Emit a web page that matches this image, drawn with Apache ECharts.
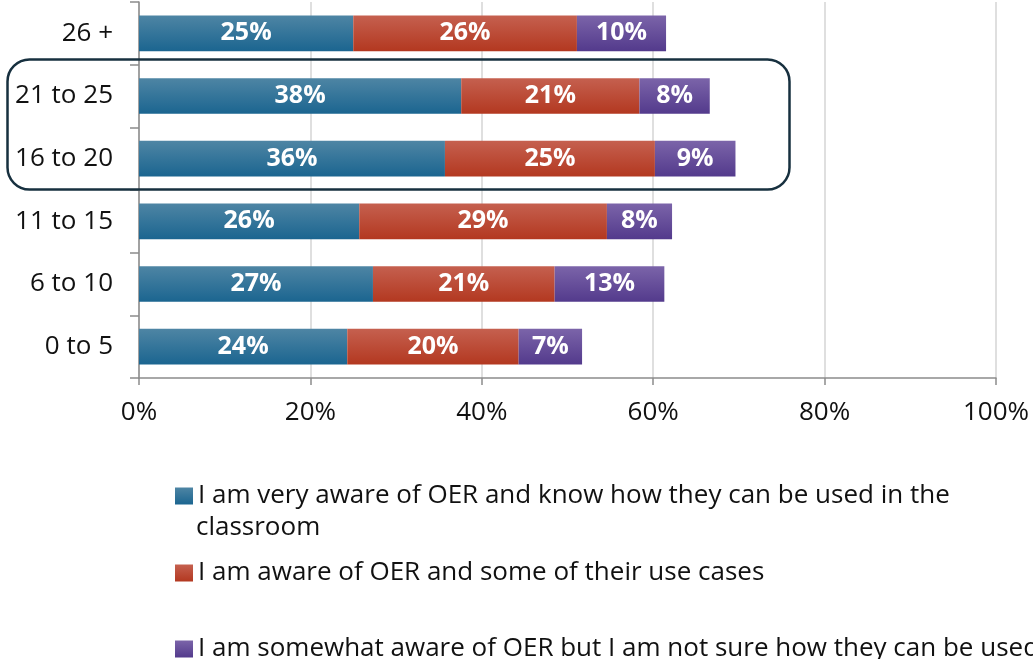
<!DOCTYPE html>
<html>
<head>
<meta charset="utf-8">
<script src="https://cdn.jsdelivr.net/npm/echarts@6/dist/echarts.min.js"></script>
<style>
  html, body { margin: 0; padding: 0; background: #fff; }
  #chart { width: 1033px; height: 659px; }
</style>
</head>
<body>
<div id="chart"></div>
<script>
// 年龄段（从下到上）
const categories = ['0 to 5', '6 to 10', '11 to 15', '16 to 20', '21 to 25', '26 +']
const xTicks = [0, 20, 40, 60, 80, 100]

// 各系列数值（%）
const veryAware = [24.3, 27.3, 25.7, 35.7, 37.6, 25.0]
const aware = [20.0, 21.2, 28.9, 24.5, 20.8, 26.1]
const somewhat = [7.4, 12.8, 7.6, 9.4, 8.2, 10.4]

const seriesNames = [
  'I am very aware of OER and know how they can be used in the',
  'I am aware of OER and some of their use cases',
  'I am somewhat aware of OER but I am not sure how they can be used'
]

const font = 'Open Sans'

const grad = (top, bottom) => new echarts.graphic.LinearGradient(0, 0, 0, 1, [
  { offset: 0, color: top },
  { offset: 1, color: bottom }
])

const makeSeries = (name, data, top, bottom) => ({
  name,
  type: 'bar',
  stack: 'total',
  barCategoryGap: '43%',
  data,
  itemStyle: { color: grad(top, bottom) },
  label: {
    show: true,
    position: 'inside',
    color: '#fff',
    fontFamily: font,
    fontWeight: 'bold',
    fontSize: 25,
    formatter: p => Math.round(p.value) + '%'
  }
})

const legendBase = {
  left: 170,
  orient: 'vertical',
  itemWidth: 18,
  itemHeight: 17,
  icon: 'rect',
  selectedMode: false,
  textStyle: { fontFamily: font, fontSize: 26, color: '#111' }
}

const chart = echarts.init(document.getElementById('chart'))

const option = {
  animation: false,
  grid: { left: 139, right: 37, top: 2, bottom: 281 },
  xAxis: {
    type: 'value',
    min: 0,
    max: 100,
    interval: 20,
    axisLine: { show: true, lineStyle: { color: '#8c8c8c', width: 1.5 } },
    axisTick: { show: true, length: 7, lineStyle: { color: '#8c8c8c', width: 1.5 } },
    axisLabel: {
      margin: 22,
      fontFamily: font,
      fontSize: 26,
      color: '#111',
      formatter: v => (xTicks.includes(v) ? v + '%' : '')
    },
    splitLine: { show: true, lineStyle: { color: '#d4d4d4', width: 1.5 } }
  },
  yAxis: {
    type: 'category',
    data: categories,
    axisLine: { show: true, lineStyle: { color: '#8c8c8c', width: 1.5 } },
    axisTick: { show: true, length: 9, lineStyle: { color: '#8c8c8c', width: 1.5 } },
    axisLabel: { margin: 26, fontFamily: font, fontSize: 26, color: '#111' }
  },
  legend: [
    Object.assign({}, legendBase, { top: 478, data: [seriesNames[0]] }),
    Object.assign({}, legendBase, { top: 555, data: [seriesNames[1]] }),
    Object.assign({}, legendBase, { top: 631, data: [seriesNames[2]] })
  ],
  graphic: [
    {
      type: 'text',
      left: 196,
      top: 515,
      style: { text: 'classroom', font: '26px "Open Sans"', fill: '#111' }
    },
    {
      type: 'rect',
      left: 5,
      top: 57,
      z: 100,
      shape: { width: 782, height: 130, r: 22 },
      style: { fill: 'none', stroke: '#17303f', lineWidth: 2.5 }
    }
  ],
  series: [
    makeSeries(seriesNames[0], veryAware, '#4e85a4', '#1b6590'),
    makeSeries(seriesNames[1], aware, '#c5604f', '#b33820'),
    makeSeries(seriesNames[2], somewhat, '#7b64a9', '#533a8c')
  ]
}

chart.setOption(option)
</script>
</body>
</html>
